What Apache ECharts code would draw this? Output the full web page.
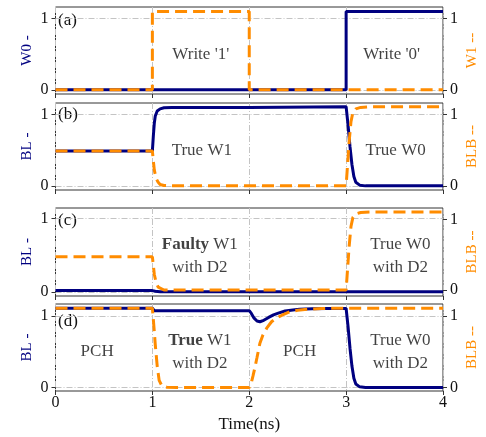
<!DOCTYPE html>
<html>
<head>
<meta charset="utf-8">
<script src="https://cdn.jsdelivr.net/npm/echarts@6/dist/echarts.min.js"></script>
<style>
  html, body { margin: 0; padding: 0; background: #fff; }
  #chart { width: 486px; height: 437px; }
</style>
</head>
<body>
<div id="chart"></div>
<script>
// ---- Panel (a): word lines ----
const tW0 = [0, 3.0, 3.0, 4];
const vW0 = [0, 0, 1.1, 1.1];
const tW1 = [0, 1.0, 1.0, 2.0, 2.0, 4];
const vW1 = [0, 0, 1.1, 1.1, 0, 0];

// ---- Panel (b): bit lines, fault-free cell ----
const tBLb  = [0, 1.0, 1.01, 1.02, 1.03, 1.05, 1.08, 1.12, 1.2, 2.0, 2.0, 3.0, 3.02, 3.04, 3.06, 3.08, 3.1, 3.14, 3.2, 4];
const vBLb  = [0.49, 0.49, 0.7, 0.88, 0.98, 1.05, 1.08, 1.095, 1.1, 1.1, 1.11, 1.11, 0.85, 0.55, 0.3, 0.13, 0.05, 0.01, 0, 0];
const tBLBb = [0, 1.0, 1.01, 1.02, 1.04, 1.06, 1.08, 1.12, 1.2, 3.0, 3.01, 3.03, 3.05, 3.07, 3.1, 3.15, 3.25, 4];
const vBLBb = [0.49, 0.49, 0.35, 0.22, 0.1, 0.05, 0.02, 0.005, 0, 0, 0.2, 0.6, 0.9, 1.03, 1.08, 1.1, 1.11, 1.11];

// ---- Panel (c): bit lines with defect D2 ----
const tBLc  = [0, 1.0, 1.03, 1.08, 4];
const vBLc  = [0.018, 0.018, 0.01, 0.004, 0.004];
const tBLBc = [0, 1.0, 1.01, 1.02, 1.04, 1.06, 1.08, 1.12, 3.0, 3.01, 3.03, 3.05, 3.07, 3.1, 3.15, 3.25, 4];
const vBLBc = [0.47, 0.47, 0.35, 0.22, 0.1, 0.04, 0.015, 0, 0, 0.2, 0.6, 0.9, 1.03, 1.08, 1.1, 1.105, 1.105];

// ---- Panel (d): bit lines with precharge phases ----
const tBLd  = [0, 1.0, 1.02, 2.0, 2.02, 2.05, 2.08, 2.11, 2.15, 2.2, 2.25, 2.3, 2.37, 2.45, 2.52, 2.65, 2.8, 3.0, 3.02, 3.04, 3.06, 3.08, 3.1, 3.14, 3.2, 4];
const vBLd  = [1.11, 1.11, 1.075, 1.075, 1.04, 0.97, 0.93, 0.92, 0.94, 0.98, 1.015, 1.04, 1.07, 1.085, 1.094, 1.1, 1.105, 1.105, 0.85, 0.55, 0.3, 0.13, 0.05, 0.01, 0, 0];
const tBLBd = [0, 1.0, 1.01, 1.02, 1.03, 1.05, 1.07, 1.1, 1.15, 1.25, 2.0, 2.02, 2.04, 2.06, 2.08, 2.11, 2.14, 2.18, 2.23, 2.28, 2.35, 2.42, 2.5, 2.6, 2.75, 3.0, 4];
const vBLBd = [1.11, 1.11, 0.95, 0.78, 0.6, 0.3, 0.1, 0.02, 0.005, 0, 0, 0.06, 0.17, 0.29, 0.42, 0.62, 0.73, 0.83, 0.92, 0.97, 1.02, 1.06, 1.08, 1.095, 1.105, 1.11, 1.11];

// ---- Axis ticks ----
const xTicks = [0, 1, 2, 3, 4];
const yTicks = [0, 1];

// ---- Text annotations per panel: [x, y, text] ----
const notesA = [[1.5, 0.5, "Write '1'"], [3.47, 0.5, "Write '0'"]];
const notesB = [[1.51, 0.5, 'True W1'], [3.51, 0.5, 'True W0']];
const notesC = [[1.49, 0.49, '{b|Faulty} W1\nwith D2'], [3.56, 0.49, 'True W0\nwith D2']];
const notesD = [[0.43, 0.5, 'PCH'], [1.49, 0.495, '{b|True} W1\nwith D2'], [2.52, 0.5, 'PCH'], [3.56, 0.495, 'True W0\nwith D2']];

const panelTags = ['(a)', '(b)', '(c)', '(d)'];
const leftNames = ['W0 -', 'BL -', 'BL -', 'BL -'];
const rightNames = ['W1 --', 'BLB --', 'BLB --', 'BLB --'];

const FONT = 'Liberation Serif, Times New Roman, serif';
const NAVY = '#000080';
const ORANGE = '#ff8c00';
const GRIDC = '#c4c4c4';

// panel layout (pixels)
const panels = [
  { top: 7, height: 87, lmin: -0.058, lmax: 1.162, rmin: -0.058, rmax: 1.162, tagTop: 12 },
  { top: 103, height: 87, lmin: -0.058, lmax: 1.162, rmin: -0.058, rmax: 1.162, tagTop: 106 },
  { top: 208, height: 88, lmin: -0.055, lmax: 1.14, rmin: -0.085, rmax: 1.163, tagTop: 212 },
  { top: 304, height: 87, lmin: -0.048, lmax: 1.168, rmin: -0.048, rmax: 1.168, tagTop: 313 }
];

const pairs = (t, v) => t.map((x, i) => [x, v[i]]);
const curves = [
  [pairs(tW0, vW0), pairs(tW1, vW1)],
  [pairs(tBLb, vBLb), pairs(tBLBb, vBLBb)],
  [pairs(tBLc, vBLc), pairs(tBLBc, vBLBc)],
  [pairs(tBLd, vBLd), pairs(tBLBd, vBLBd)]
];
const notes = [notesA, notesB, notesC, notesD];

const grid = [], xAxis = [], yAxis = [], series = [], graphic = [];

panels.forEach((p, i) => {
  grid.push({
    left: 55.5, right: 43, top: p.top, height: p.height, outerBoundsMode: 'none',
    show: true, borderColor: '#333', borderWidth: 1, backgroundColor: 'transparent'
  });
  xAxis.push({
    type: 'value', gridIndex: i, min: 0, max: 4, interval: 1,
    name: i === 3 ? 'Time(ns)' : '', nameLocation: 'middle', nameGap: 25, nameMoveOverlap: false,
    nameTextStyle: { fontFamily: FONT, fontSize: 17, color: '#111' },
    axisLine: { show: false, onZero: false },
    axisTick: { show: true, inside: false, length: 4, lineStyle: { color: '#333' } },
    axisLabel: { show: i === 3, margin: 4, fontFamily: FONT, fontSize: 16, color: '#111' },
    splitLine: { show: true, lineStyle: { color: GRIDC, width: 1, type: [6, 2, 1, 2] } }
  });
  const yBase = (pos, min, max, name, color, split, gap) => ({
    type: 'value', gridIndex: i, position: pos, min, max,
    name, nameLocation: 'middle', nameRotate: 90, nameGap: gap, nameMoveOverlap: false,
    nameTextStyle: { fontFamily: FONT, fontSize: 15, color },
    axisLine: { show: false, onZero: false },
    axisTick: { show: true, inside: false, length: 4, customValues: yTicks, lineStyle: { color: '#333' } },
    axisLabel: { customValues: yTicks, margin: 7, fontFamily: FONT, fontSize: 16, color: '#111' },
    splitLine: { show: split, lineStyle: { color: GRIDC, width: 1, type: [6, 2, 1, 2] } }
  });
  yAxis.push(yBase('left', p.lmin, p.lmax, leftNames[i], NAVY, true, 21));
  yAxis.push(yBase('right', p.rmin, p.rmax, rightNames[i], ORANGE, false, 22));

  series.push({
    type: 'line', xAxisIndex: i, yAxisIndex: 2 * i, data: curves[i][0],
    showSymbol: false, symbol: 'none', z: 3, silent: true,
    lineStyle: { color: NAVY, width: 3 }
  });
  series.push({
    type: 'line', xAxisIndex: i, yAxisIndex: 2 * i + 1, data: curves[i][1],
    showSymbol: false, symbol: 'none', z: 4, silent: true,
    lineStyle: { color: ORANGE, width: 3, type: [12, 6] }
  });
  series.push({
    type: 'scatter', xAxisIndex: i, yAxisIndex: 2 * i, silent: true, z: 5,
    symbolSize: 0, itemStyle: { color: 'rgba(0,0,0,0)' },
    data: notes[i].map(n => ({ value: [n[0], n[1]], name: n[2] })),
    labelLayout: { hideOverlap: false },
    label: {
      show: true, position: 'inside', formatter: d => d.name,
      fontFamily: FONT, fontSize: 17, color: '#111', lineHeight: 23, align: 'center', verticalAlign: 'middle',
      rich: { b: { fontFamily: FONT, fontSize: 17, fontWeight: 'bold', color: '#111', lineHeight: 23 } }
    }
  });
  graphic.push({
    type: 'text', left: 58, top: p.tagTop, silent: true,
    style: { text: panelTags[i], font: '17px ' + FONT, fill: '#111' }
  });
});

const chart = echarts.init(document.getElementById('chart'), null, { renderer: 'canvas' });
chart.setOption({
  animation: false,
  backgroundColor: '#fff',
  grid, xAxis, yAxis, series, graphic
});
</script>
</body>
</html>
